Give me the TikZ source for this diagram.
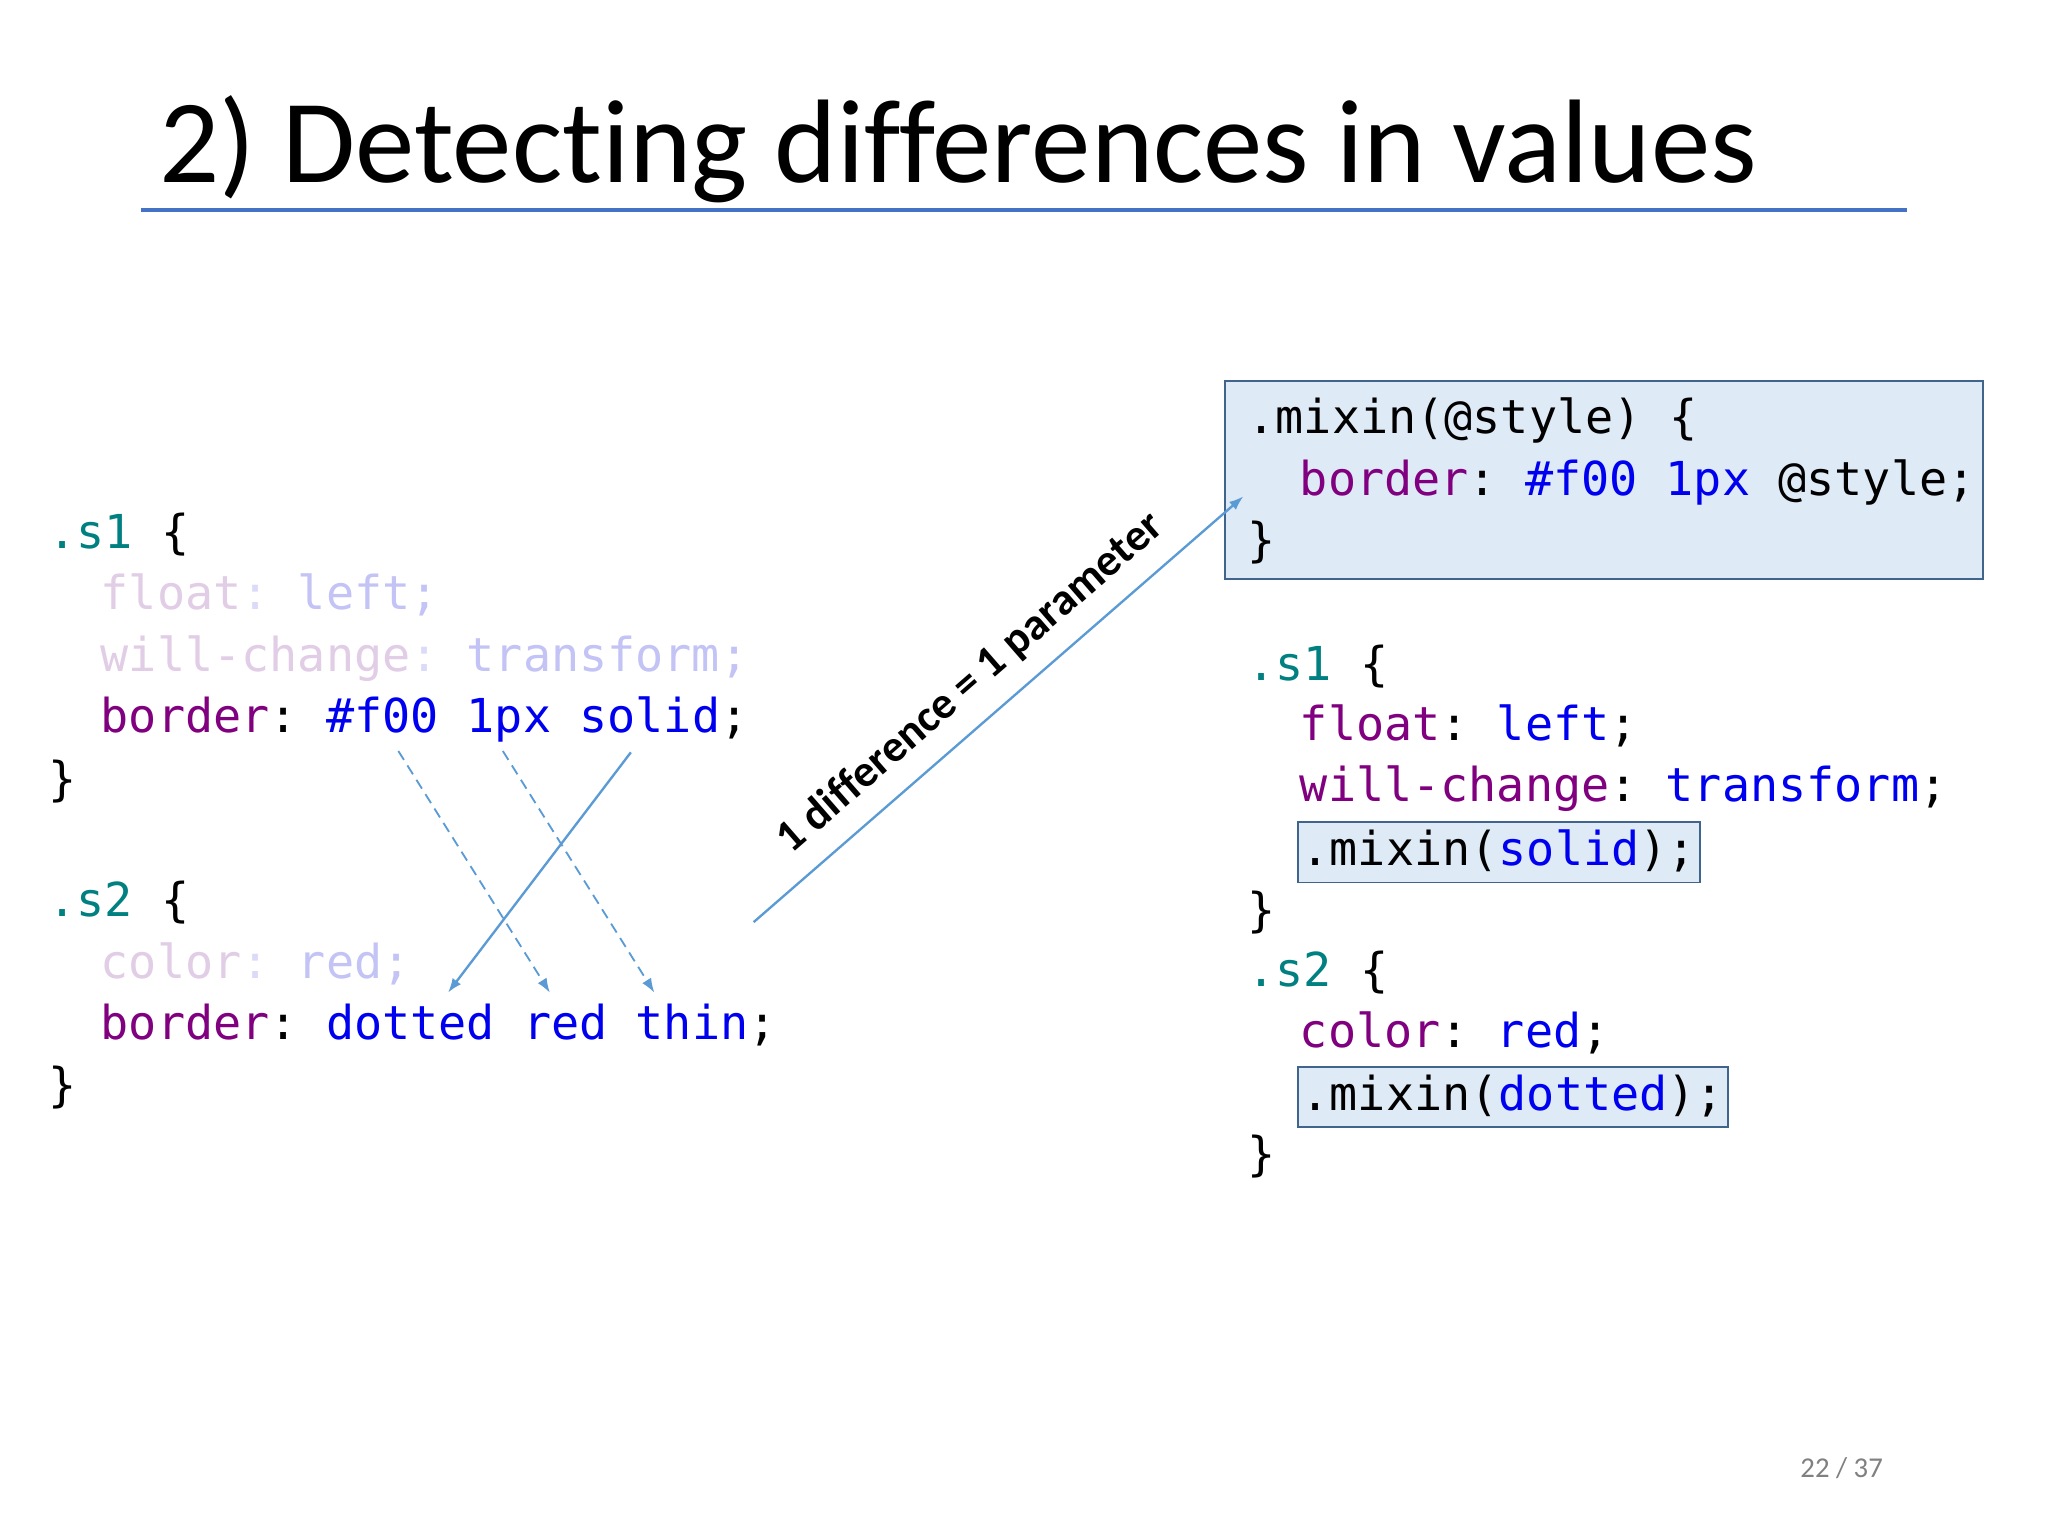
\documentclass[tikz,border=0pt]{standalone}
\usepackage{fontspec}
\usetikzlibrary{arrows.meta}
\setmainfont[Ligatures=NoCommon]{Carlito}
\setmonofont{DejaVu Sans Mono}
\definecolor{sel}{RGB}{0,128,128}
\definecolor{prop}{RGB}{128,0,128}
\definecolor{val}{RGB}{0,0,240}
\definecolor{fprop}{RGB}{225,205,230}
\definecolor{fval}{RGB}{195,195,245}
\definecolor{lblue}{RGB}{91,155,213}
\definecolor{boxfill}{RGB}{222,234,246}
\definecolor{boxline}{RGB}{65,100,140}
\definecolor{titleline}{RGB}{68,114,196}
\newcommand{\CSl}[1]{\textcolor{sel}{#1}}
\newcommand{\CPr}[1]{\textcolor{prop}{#1}}
\newcommand{\CVl}[1]{\textcolor{val}{#1}}
\begin{document}
\begin{tikzpicture}[x=1pt,y=-1pt,
  code/.style={anchor=west,inner sep=0pt,font=\ttfamily\fontsize{35.8}{40}\selectfont,text height=27pt,text depth=7pt},
  mbox/.style={code,draw=boxline,fill=boxfill,line width=1.2pt,inner xsep=3pt,inner ysep=6pt},
  link/.style={lblue,line width=1.8pt,-{Latex[length=11pt,width=8pt]}},
  dlink/.style={link,line width=1.4pt,dash pattern=on 8pt off 5pt}]
\useasboundingbox (0,0) rectangle (1568,1176);
\fill[white] (0,0) rectangle (1568,1176);
\node[anchor=base west,inner sep=0pt,font=\fontsize{91}{96}\selectfont] (title) at (122,140) {2) Detecting differences in values};
\draw[titleline,line width=3pt] (108,161) -- (1460,161);
% left code
\node[code] (l1) at (37,410) {\CSl{.s1} \{};
\node[code] (l2) at (77,457) {\textcolor{fprop}{float}\textcolor{fval!60}{:} \textcolor{fval}{left;}};
\node[code] (l3) at (77,504) {\textcolor{fprop}{will-change}\textcolor{fval!60}{:} \textcolor{fval}{transform;}};
\node[code] (l4) at (77,551) {\CPr{border}: \CVl{\#f00} \CVl{1px} \CVl{solid};};
\node[code] (l5) at (37,599) {\}};
\node[code] (l6) at (37,692) {\CSl{.s2} \{};
\node[code] (l7) at (77,739) {\textcolor{fprop}{color}\textcolor{fval!60}{:} \textcolor{fval}{red;}};
\node[code] (l8) at (77,786) {\CPr{border}: \CVl{dotted} \CVl{red} \CVl{thin};};
\node[code] (l9) at (37,833) {\}};
% mixin box
\draw[boxline,fill=boxfill,line width=1.5pt] (938,292) rectangle (1518,443);
\node[code] (m1) at (955,322) {.mixin(@style) \{};
\node[code] (m2) at (995,369) {\CPr{border}: \CVl{\#f00} \CVl{1px} @style;};
\node[code] (m3) at (955,416) {\}};
% right code
\node[code] (r1) at (955,511) {\CSl{.s1} \{};
\node[code] (r2) at (995,557) {\CPr{float}: \CVl{left};};
\node[code] (r3) at (995,604) {\CPr{will-change}: \CVl{transform};};
\node[mbox] (r4) at (993,652.5) {.mixin(\CVl{solid});};
\node[code] (r5) at (955,699) {\}};
\node[code] (r6) at (955,745) {\CSl{.s2} \{};
\node[code] (r7) at (995,792) {\CPr{color}: \CVl{red};};
\node[mbox] (r8) at (993,840) {.mixin(\CVl{dotted});};
\node[code] (r9) at (955,886) {\}};
% arrows
\coordinate (a1s) at (483,576); \coordinate (a1e) at (343,760);
\coordinate (a2s) at (305,575); \coordinate (a2e) at (421,760);
\coordinate (a3s) at (385,575); \coordinate (a3e) at (501,760);
\coordinate (bs) at (577,706); \coordinate (be) at (952,380);
\draw[link] (a1s) -- (a1e);
\draw[dlink] (a2s) -- (a2e);
\draw[dlink] (a3s) -- (a3e);
\draw[link] (bs) -- (be);
\node[font=\fontsize{34.5}{38}\selectfont\bfseries,rotate=41,inner sep=0pt] (lbl) at (743,523) {1 difference = 1 parameter};
\node[font=\fontsize{22}{24}\selectfont,text=gray,inner sep=0pt] (pg) at (1410,1124) {22 / 37};
\end{tikzpicture}
\end{document}
